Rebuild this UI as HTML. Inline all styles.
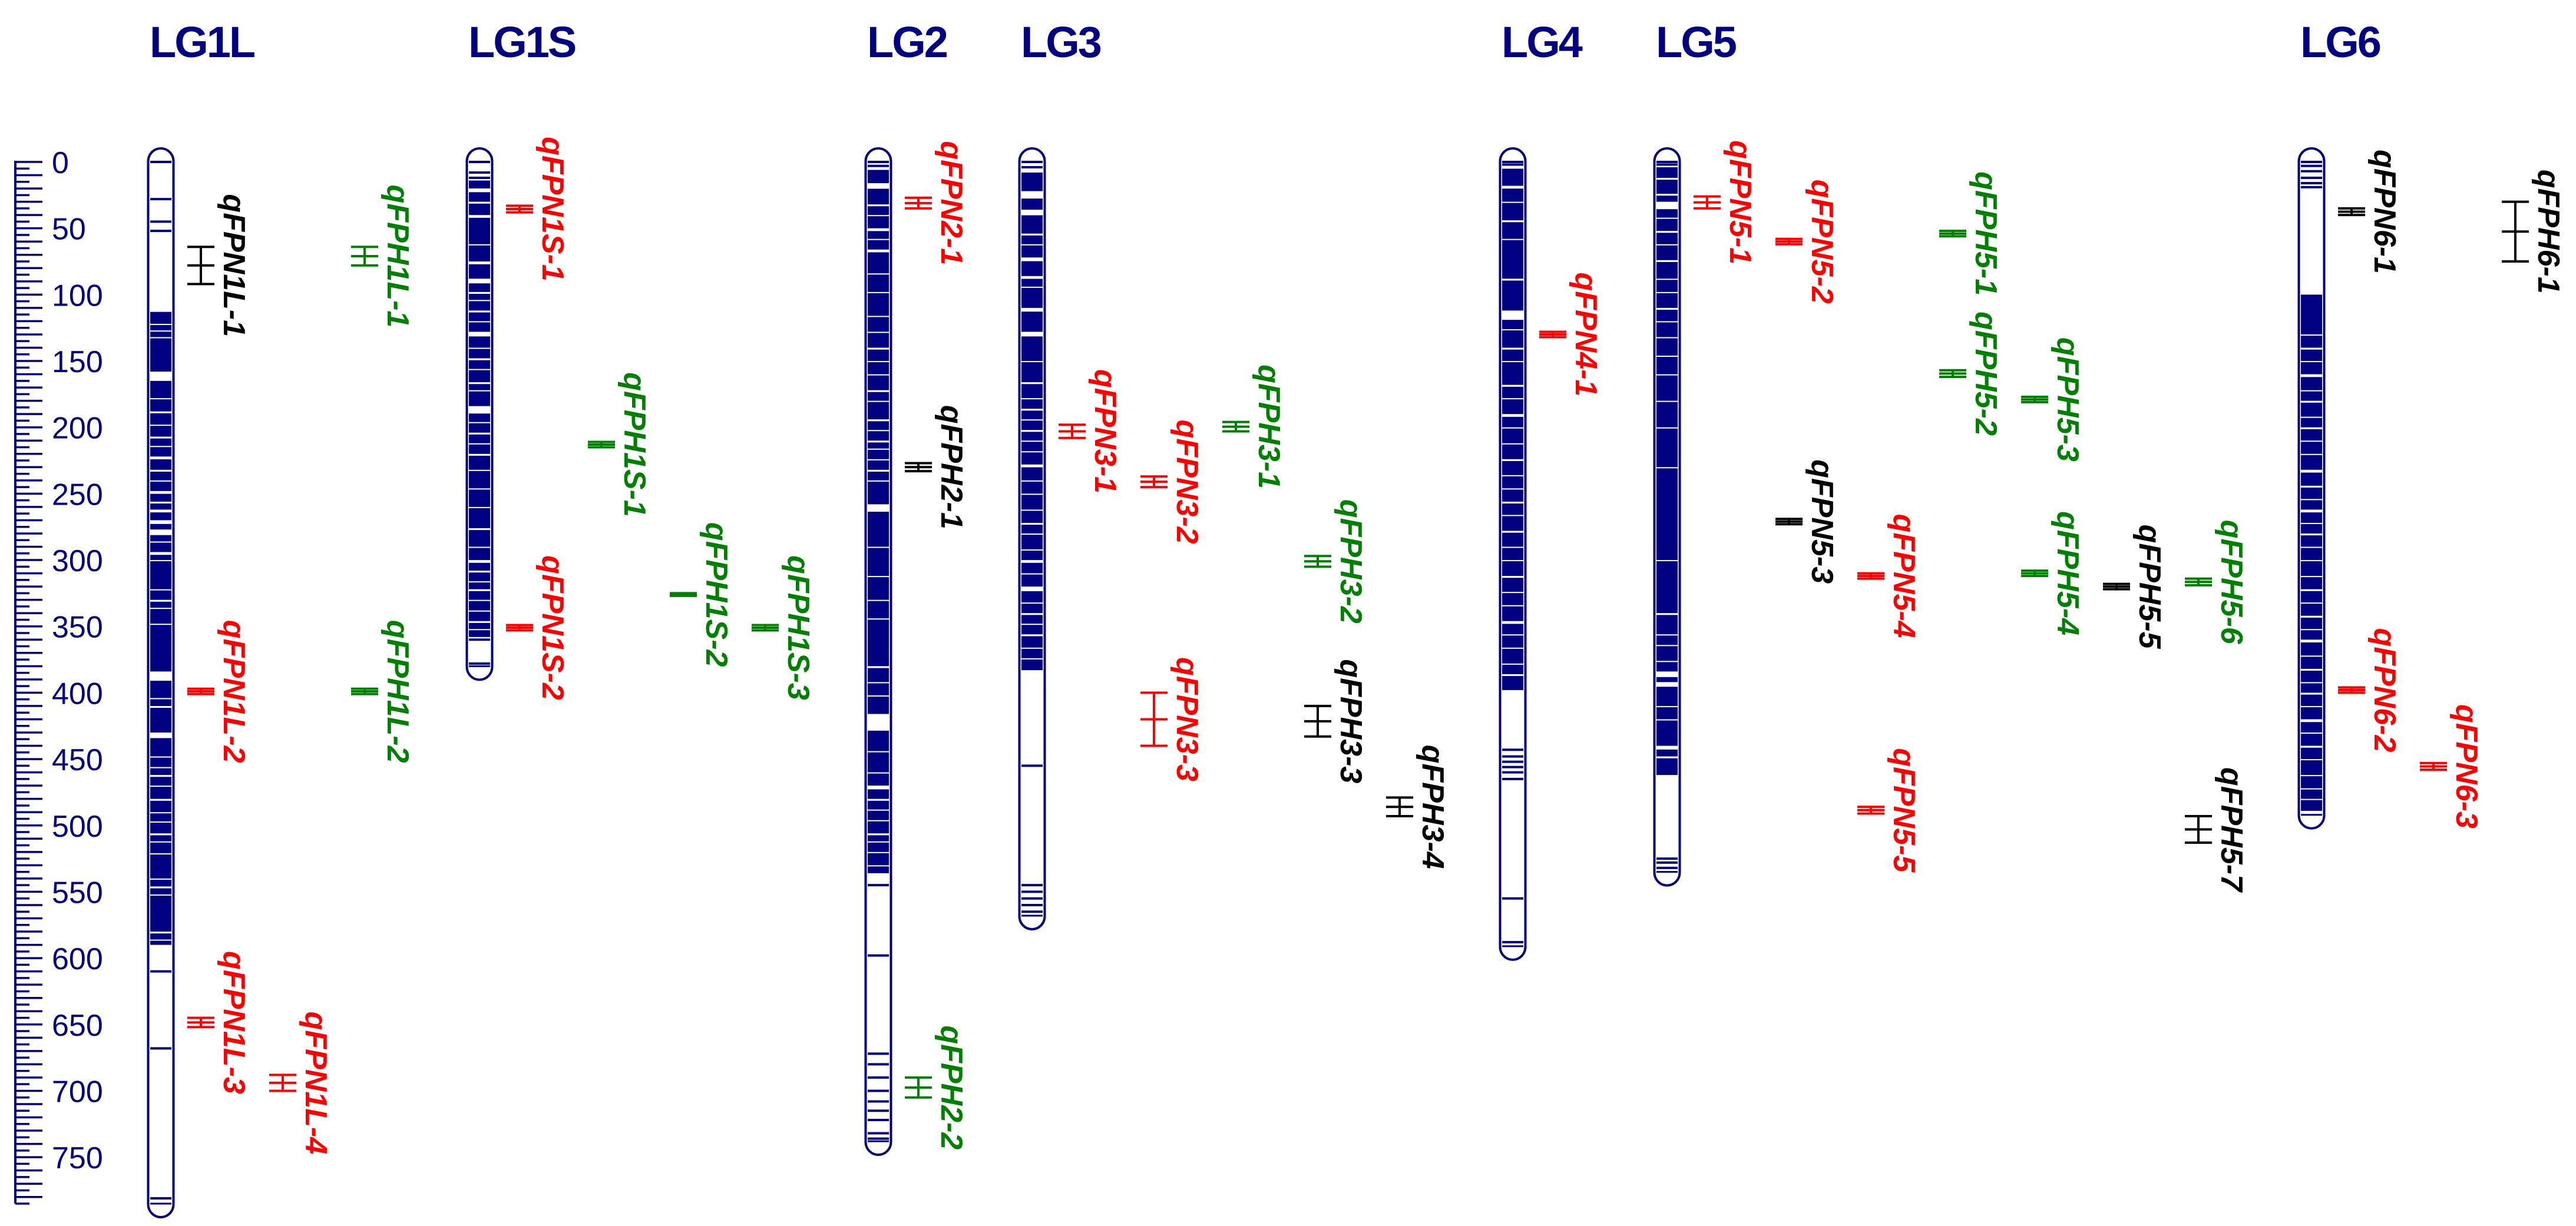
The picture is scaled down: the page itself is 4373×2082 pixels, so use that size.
<!DOCTYPE html>
<html><head><meta charset="utf-8"><title>QTL linkage map</title>
<style>html,body{margin:0;padding:0;background:#fff}svg{display:block}</style></head>
<body>
<svg id="chart" xmlns="http://www.w3.org/2000/svg" width="4373" height="2082" viewBox="0 0 4373 2082"></svg>
<script>
// ---- data ----
const chromNames = ["LG1L","LG1S","LG2","LG3","LG4","LG5","LG6"];
const chromLengths = [785,380,738,568,591,535,492];
// single marker lines (cM)
const chromLines = [
  [0,28,45,52,610,668,781],
  [0,8,12,360,378],
  [0,3,8,545,598,672,680,690,700,708,715,722,732,736],
  [0,4,455,545,550,555,560,565],
  [0,2,6,443,448,452,456,460,465,555,588],
  [0,2,525,528,532],
  [0,3,7,12,16,19]
];
// dense blocks [start,end] (cM)
const chromBlocks = [
  [[113,590]],
  [[14,358]],
  [[6,536]],
  [[8,383]],
  [[6,398]],
  [[4,462]],
  [[100,489]]
];
// white stripes inside blocks [position,width] (cM)
const chromGaps = [
  [[122,1],[127,1],[132,1],[158,10],[178,1],[188,2],[198,1],[207,2],[214,1],[222,3],[232,2],[240,1],[248,3],[256,2],[262,3],[270,4],[277,6],[286,1],[294,3],[300,1],[322,1],[330,2],[336,1],[348,1],[384,10],[404,1],[410,2],[430,6],[448,1],[456,1],[462,2],[470,1],[480,2],[490,1],[497,1],[506,2],[512,1],[521,1],[540,1],[546,2],[552,1],[580,2],[586,1]],
  [[20,4],[30,2],[40,3],[62,1],[75,3],[88,5],[98,2],[104,1],[112,2],[120,1],[128,5],[140,1],[148,2],[156,1],[166,2],[172,1],[184,8],[196,1],[204,2],[212,1],[220,2],[232,1],[246,1],[260,1],[276,2],[290,1],[300,3],[308,2],[316,1],[322,2],[330,1],[338,1],[346,2],[352,1]],
  [[16,6],[32,2],[40,1],[50,3],[58,1],[66,3],[84,1],[98,1],[116,1],[128,1],[140,2],[150,1],[160,1],[172,2],[180,1],[194,2],[202,1],[210,2],[216,1],[224,1],[232,2],[240,1],[258,8],[290,1],[312,1],[330,1],[344,1],[380,2],[392,1],[402,1],[416,18],[444,1],[460,1],[470,4],[480,2],[488,1],[496,1],[506,2],[512,1],[520,1],[530,1]],
  [[22,8],[36,6],[54,2],[62,1],[72,4],[86,3],[94,1],[110,4],[128,5],[150,1],[166,2],[178,1],[186,2],[194,1],[202,2],[210,1],[218,1],[228,3],[240,1],[250,1],[262,1],[272,2],[280,1],[292,1],[300,3],[310,1],[320,5],[332,1],[340,2],[348,1],[356,2],[366,1],[374,1]],
  [[18,3],[30,1],[44,2],[58,1],[88,2],[112,10],[126,1],[140,2],[150,1],[168,2],[178,1],[190,3],[200,1],[212,1],[224,2],[236,1],[246,1],[256,2],[266,1],[278,2],[290,1],[300,1],[312,2],[324,1],[334,1],[346,3],[356,1],[366,1],[378,1],[386,2]],
  [[12,2],[24,2],[30,8],[42,1],[52,2],[62,1],[74,2],[88,1],[98,1],[110,2],[120,1],[132,1],[146,1],[160,1],[180,1],[200,1],[230,1],[300,1],[340,2],[356,1],[364,1],[376,1],[384,6],[392,5],[410,1],[420,1],[440,4],[448,2]],
  [[130,1],[140,2],[150,1],[160,3],[172,1],[180,2],[192,1],[200,2],[210,1],[220,1],[232,3],[244,2],[254,1],[262,3],[272,1],[280,2],[290,1],[300,1],[312,1],[322,2],[332,1],[342,2],[352,1],[360,3],[372,1],[382,2],[392,1],[400,2],[410,1],[420,3],[430,1],[440,2],[450,1],[462,1],[472,1],[480,1]]
];
const axisTicks = [0,50,100,150,200,250,300,350,400,450,500,550,600,650,700,750];
const axisMax = 785;
// QTLs
const qtlNames = ["qFPN1L-1","qFPH1L-1","qFPN1L-2","qFPH1L-2","qFPN1L-3","qFPN1L-4",
  "qFPN1S-1","qFPH1S-1","qFPN1S-2","qFPH1S-2","qFPH1S-3",
  "qFPN2-1","qFPH2-1","qFPH2-2",
  "qFPN3-1","qFPN3-2","qFPH3-1","qFPH3-2","qFPN3-3","qFPH3-3","qFPH3-4",
  "qFPN4-1",
  "qFPN5-1","qFPN5-2","qFPH5-1","qFPH5-2","qFPH5-3","qFPN5-3","qFPN5-4","qFPH5-4","qFPH5-5","qFPH5-6","qFPN5-5","qFPH5-7",
  "qFPN6-1","qFPH6-1","qFPN6-2","qFPN6-3"];
const qtlChrom = [0,0,0,0,0,0, 1,1,1,1,1, 2,2,2, 3,3,3,3,3,3,3, 4, 5,5,5,5,5,5,5,5,5,5,5,5, 6,6,6,6];
const qtlLane  = [0,2,0,2,0,1, 0,1,0,2,3, 0,0,0, 0,1,2,3,1,3,4, 0, 0,1,3,3,4,1,2,4,5,6,2,6, 0,2,0,1];
const qtlLow  = [64,64,397,397,645,688, 33,211,349,325,349, 27,227,690, 198,237,196,297,400,410,479, 128, 26,58,52,157,177,269,310,308,318,314,486,493, 35,30,396,453];
const qtlHigh = [92,78,401,401,652,700, 38,215,353,327,353, 35,233,705, 208,245,203,305,440,433,493, 132, 35,62,56,162,181,273,314,312,322,319,491,513, 40,75,400,458];
const qtlColor = ["black","green","red","green","red","red", "red","green","red","green","green", "red","black","green", "red","red","green","green","red","black","black", "red", "red","red","green","green","green","black","red","green","black","green","red","black", "black","black","red","red"];

// ---- layout ----
const chromCenter = [273,814,1491,1752,2568,2830,3924];
const chromW = 46, Y0 = 275, SCALE = 2.2535, NAVY = "#000080";
const colorMap = {red:"#ff0000", green:"#008000", black:"#000000"};
const y = v => Y0 + v * SCALE;
const laneX = (c, l) => chromCenter[c] + 68 + l * 139;
const NS = "http://www.w3.org/2000/svg";
const svg = document.getElementById("chart");
function mk(tag, attrs, parent) {
  const e = document.createElementNS(NS, tag);
  for (const k in attrs) e.setAttribute(k, attrs[k]);
  (parent || svg).appendChild(e);
  return e;
}

// axis
const axis = mk("g", {});


mk("line", {x1:26, y1:y(0)-2, x2:26, y2:y(axisMax), stroke:NAVY, "stroke-width":4}, axis);
for (let v = 0; v <= axisMax; v += 5) {
  const long = v % 10 === 0;
  mk("line", {x1:26, y1:y(v), x2: long ? 72 : 50, y2:y(v), stroke:NAVY, "stroke-width":3.5}, axis);
}
axisTicks.forEach(t => {
  const tx = mk("text", {x:88, y:y(t)+19, fill:NAVY, "font-family":"Liberation Sans, sans-serif", "font-size":52}, axis);
  
  
  tx.textContent = t;
});

// chromosomes
chromNames.forEach((name, i) => {
  const g = mk("g", {});
  
  
  const cx = chromCenter[i], left = cx - chromW/2, top = y(0), bot = y(chromLengths[i]);
  const title = mk("text", {x:left+4, y:97, fill:NAVY, "font-family":"Liberation Sans, sans-serif", "font-size":74, "font-weight":"bold", "letter-spacing":"-3"}, g);
  
  
  title.textContent = name;
  const inner = left + 5, iw = chromW - 10;
  chromBlocks[i].forEach(b => {
    const r = mk("rect", {x:inner, y:y(b[0]), width:iw, height:y(b[1])-y(b[0]), fill:NAVY}, g);
    
    
  });
  chromGaps[i].forEach(gp => {
    const r = mk("rect", {x:inner, y:y(gp[0]), width:iw, height:Math.max(2, gp[1]*SCALE*0.7), fill:"#fff"}, g);
    
    
  });
  chromLines[i].forEach(m => {
    const l = mk("line", {x1:inner, y1:y(m), x2:inner+iw, y2:y(m), stroke:NAVY, "stroke-width":4}, g);
    
    
  });
  const outline = mk("rect", {x:left+1.5, y:top-23, width:chromW-3, height:bot-top+46, rx:22, ry:22, fill:"none", stroke:NAVY, "stroke-width":4}, g);
  
  
  mk("line", {x1:inner, y1:top, x2:inner+iw, y2:top, stroke:NAVY, "stroke-width":3}, g);
  mk("line", {x1:inner, y1:bot, x2:inner+iw, y2:bot, stroke:NAVY, "stroke-width":3}, g);
});

// QTLs
qtlNames.forEach((name, i) => {
  const g = mk("g", {});
  
  
  const col = colorMap[qtlColor[i]];
  const x = laneX(qtlChrom[i], qtlLane[i]);
  const y1 = y(qtlLow[i]), y2 = y(qtlHigh[i]), ym = (y1 + y2) / 2;
  mk("line", {x1:x, y1:y1, x2:x, y2:y2, stroke:col, "stroke-width":4}, g);
  [y1, ym, y2].forEach(yy => mk("line", {x1:x-23, y1:yy, x2:x+23, y2:yy, stroke:col, "stroke-width":4}, g));
  const lbl = mk("text", {x:0, y:0, fill:col, "font-family":"Liberation Sans, sans-serif", "font-size":52, "font-weight":"bold", "font-style":"italic", "text-anchor":"middle", transform:`translate(${x+39},${ym}) rotate(90)`}, g);
  
  
  lbl.textContent = name;
});
</script>
</body></html>
